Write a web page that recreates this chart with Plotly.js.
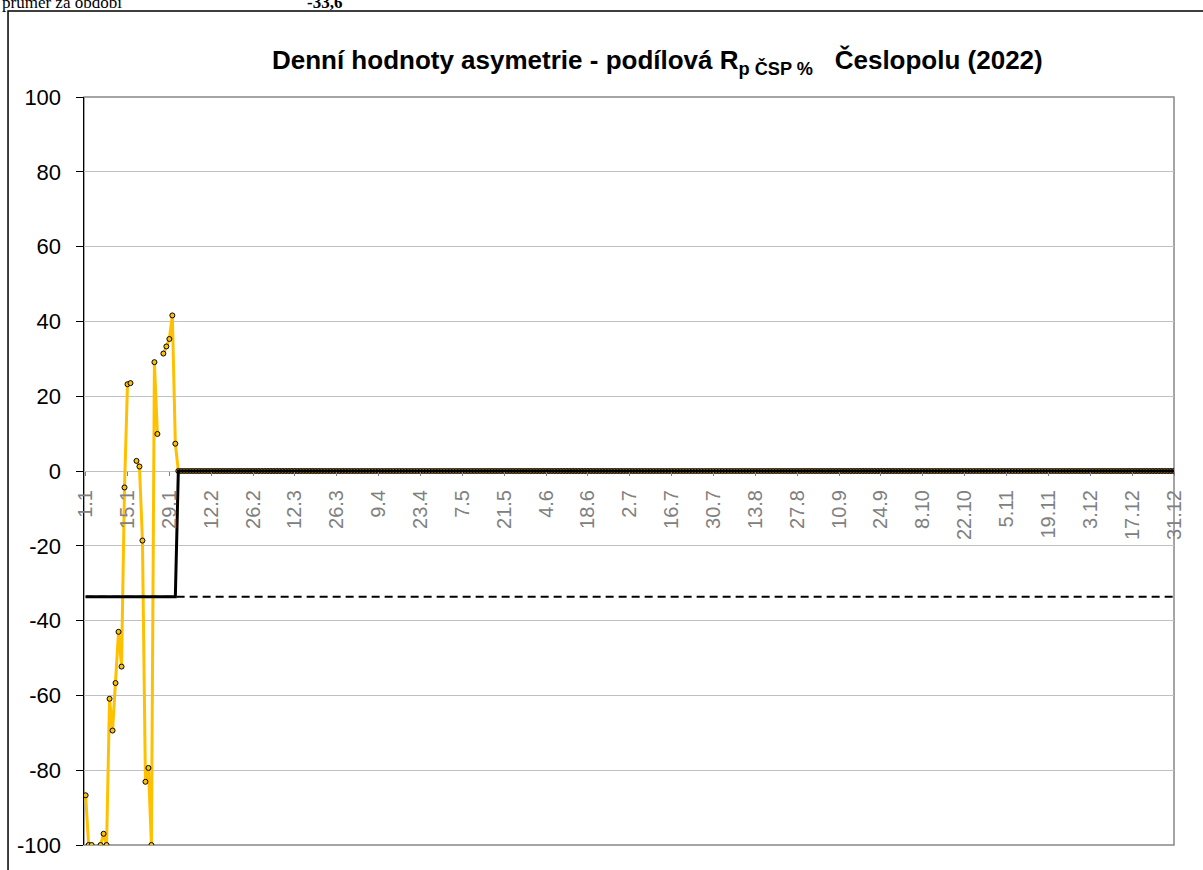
<!DOCTYPE html>
<html>
<head>
<meta charset="utf-8">
<script src="https://cdn.plot.ly/plotly-3.0.1.min.js"></script>
<style>
html,body{margin:0;padding:0;background:#fff;overflow:hidden;}
#chart{width:1203px;height:870px;}
</style>
</head>
<body>
<div id="chart"></div>
<script>
// ---- data ----
const monthLengths = [31,28,31,30,31,30,31,31,30,31,30,31];
const dayLabels = [];
for (let m = 0; m < 12; m++) {
  for (let d = 1; d <= monthLengths[m]; d++) dayLabels.push(d + '.' + (m + 1));
}

// daily values of the asymmetry (January readings, then zero for the rest of the year)
const januaryValues = [
  -86.7, -100, -100, null, null, -100, -97.0, -100, -60.9, -69.4,
  -56.7, -43.0, -52.3, -4.4, 23.2, 23.5, null, 2.7, 1.2, -18.6,
  -83.1, -79.4, -100, 29.1, 9.9, null, 31.4, 33.3, 35.3, 41.6,
  7.3
];
const restOfYearValues = [
  0,0,0,0,0,0,0,0,0,0,0,0,0,0,0,0,0,0,0,0,
  0,0,0,0,0,0,0,0,0,0,0,0,0,0,0,0,0,0,0,0,
  0,0,0,0,0,0,0,0,0,0,0,0,0,0,0,0,0,0,0,0,
  0,0,0,0,0,0,0,0,0,0,0,0,0,0,0,0,0,0,0,0,
  0,0,0,0,0,0,0,0,0,0,0,0,0,0,0,0,0,0,0,0,
  0,0,0,0,0,0,0,0,0,0,0,0,0,0,0,0,0,0,0,0,
  0,0,0,0,0,0,0,0,0,0,0,0,0,0,0,0,0,0,0,0,
  0,0,0,0,0,0,0,0,0,0,0,0,0,0,0,0,0,0,0,0,
  0,0,0,0,0,0,0,0,0,0,0,0,0,0,0,0,0,0,0,0,
  0,0,0,0,0,0,0,0,0,0,0,0,0,0,0,0,0,0,0,0,
  0,0,0,0,0,0,0,0,0,0,0,0,0,0,0,0,0,0,0,0,
  0,0,0,0,0,0,0,0,0,0,0,0,0,0,0,0,0,0,0,0,
  0,0,0,0,0,0,0,0,0,0,0,0,0,0,0,0,0,0,0,0,
  0,0,0,0,0,0,0,0,0,0,0,0,0,0,0,0,0,0,0,0,
  0,0,0,0,0,0,0,0,0,0,0,0,0,0,0,0,0,0,0,0,
  0,0,0,0,0,0,0,0,0,0,0,0,0,0,0,0,0,0,0,0,
  0,0,0,0,0,0,0,0,0,0,0,0,0,0
];
const dailyValues = januaryValues.concat(restOfYearValues);

// monthly average (step) line
const stepDays = ['1.1', '31.1', '1.2', '31.12'];
const stepValues = [-33.6, -33.6, 0, 0];

// average for the whole period
const periodDays = ['1.1', '31.12'];
const periodAverage = [-33.6, -33.6];
const periodAverageText = '-33,6';

const xTickLabels = ['1.1','15.1','29.1','12.2','26.2','12.3','26.3','9.4','23.4','7.5','21.5','4.6','18.6','2.7','16.7','30.7','13.8','27.8','10.9','24.9','8.10','22.10','5.11','19.11','3.12','17.12','31.12'];
const yTickValues = [-100,-80,-60,-40,-20,0,20,40,60,80,100];
const yTickLabels = ['-100','-80','-60','-40','-20','0','20','40','60','80','100'];

// ---- chart ----
const FONT = 'Arial, "Liberation Sans", sans-serif';
const SERIF = '"Times New Roman", "Liberation Serif", serif';

const traces = [
  {
    x: dayLabels, y: dailyValues, type: 'scatter', mode: 'lines',
    line: {color: '#FFC000', width: 3}, hoverinfo: 'skip', showlegend: false
  },
  {
    x: periodDays, y: periodAverage, type: 'scatter', mode: 'lines',
    line: {color: '#000000', width: 2, dash: '8px,5px'}, hoverinfo: 'skip', showlegend: false
  },
  {
    x: dayLabels, y: dailyValues, type: 'scatter', mode: 'markers',
    marker: {color: '#FFC000', size: 5, line: {color: '#000000', width: 1}},
    hoverinfo: 'skip', showlegend: false
  },
  {
    x: stepDays, y: stepValues, type: 'scatter', mode: 'lines',
    line: {color: '#000000', width: 3}, hoverinfo: 'skip', showlegend: false
  }
];

const layout = {
  width: 1203, height: 870,
  margin: {l: 84, r: 29, t: 97, b: 25},
  paper_bgcolor: '#ffffff', plot_bgcolor: '#ffffff',
  font: {family: FONT, color: '#000000'},
  title: {
    text: 'Denní hodnoty asymetrie - podílová R<sub>p ČSP %</sub>\u00a0\u00a0\u00a0Česlopolu (2022)',
    font: {family: FONT, size: 26, weight: 'bold', color: '#000000'},
    xref: 'paper', x: 0.526, xanchor: 'center',
    yref: 'container', y: 0.931, yanchor: 'middle'
  },
  xaxis: {
    type: 'category', categoryorder: 'array', categoryarray: dayLabels,
    range: [-0.55, 364],
    anchor: 'free', position: 0.5,
    tickmode: 'array', tickvals: xTickLabels, ticktext: xTickLabels,
    tickangle: -90, tickfont: {family: FONT, size: 20, color: '#808080'},
    ticks: 'outside', ticklen: 4, tickcolor: '#808080', ticklabelstandoff: 6,
    showgrid: false, zeroline: false, showline: false
  },
  yaxis: {
    range: [-100, 100],
    tickmode: 'array', tickvals: yTickValues, ticktext: yTickLabels,
    tickfont: {family: FONT, size: 22, color: '#000000'},
    ticks: 'outside', ticklen: 7, tickcolor: '#000000', ticklabelstandoff: 10,
    showgrid: true, gridcolor: '#C0C0C0', gridwidth: 1,
    zeroline: false, showline: true, linecolor: '#000000', linewidth: 1.5
  },
  shapes: [
    {type: 'rect', xref: 'paper', yref: 'paper', x0: 0, x1: 1, y0: 0, y1: 1,
     line: {color: '#888888', width: 1.5}, layer: 'below'},
    {type: 'rect', xref: 'paper', yref: 'paper', x0: -0.0697, x1: 1.2, y0: -0.2, y1: 1.1150,
     line: {color: '#000000', width: 1.5}}
  ],
  annotations: [
    {text: 'průměr za období', xref: 'paper', yref: 'paper', x: -0.0771, y: 1.127,
     xanchor: 'left', yanchor: 'middle', showarrow: false,
     font: {family: SERIF, size: 17, color: '#000000'}},
    {text: '<b>' + periodAverageText + '</b>', xref: 'paper', yref: 'paper', x: 0.203, y: 1.127,
     xanchor: 'left', yanchor: 'middle', showarrow: false,
     font: {family: SERIF, size: 17, color: '#000000'}}
  ]
};

Plotly.newPlot('chart', traces, layout, {displayModeBar: false, staticPlot: true});
</script>
</body>
</html>
